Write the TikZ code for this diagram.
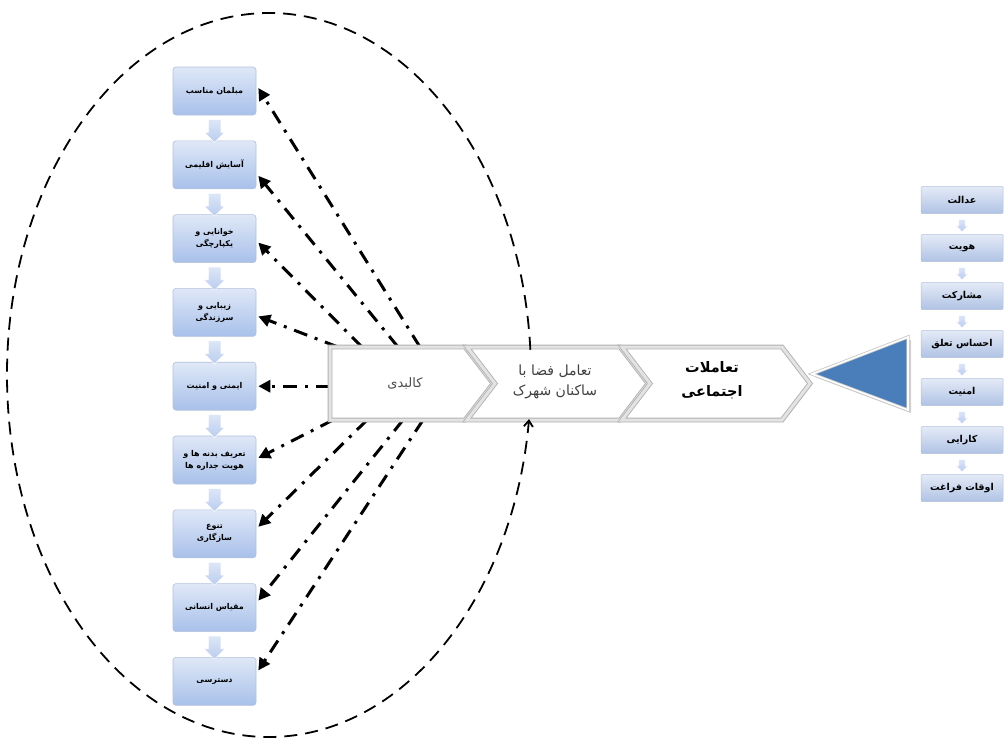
\documentclass[tikz,border=0pt]{standalone}
\usepackage{fontspec}
\usetikzlibrary{arrows.meta,calc,shapes.arrows,shadows}
\newfontfamily\arabicfont[Script=Arabic]{DejaVu Sans}
\TeXXeTstate=1
\newcommand{\myrl}[1]{\beginR #1\endR}
\definecolor{boxtop}{HTML}{DFE8F7}
\definecolor{boxbot}{HTML}{A8C0EA}
\definecolor{boxedge}{HTML}{B2C2DB}
\definecolor{rtop}{HTML}{E4EAF6}
\definecolor{rbot}{HTML}{B0C3E5}
\definecolor{tri}{HTML}{4A7EBB}
\definecolor{atop}{HTML}{DCE6F7}
\definecolor{abot}{HTML}{BACCEE}
\begin{document}
\begin{tikzpicture}[x=1pt,y=1pt,
  lbox/.style={rectangle, rounded corners=3pt, minimum width=83pt, minimum height=48pt, top color=boxtop, bottom color=boxbot, draw=boxedge, line width=0.6pt, align=center, inner sep=1pt, font=\arabicfont\bfseries\fontsize{8}{12}\selectfont},
  rbox/.style={rectangle, rounded corners=1pt, minimum width=82pt, minimum height=27pt, top color=rtop, bottom color=rbot, draw=boxedge, line width=0.5pt, inner sep=1pt, font=\arabicfont\bfseries\fontsize{9.5}{11}\selectfont},
  darr/.style={single arrow, shape border rotate=270, inner sep=6pt, minimum height=23pt, single arrow head extend=4pt, top color=atop, bottom color=abot, draw=white, line width=0.5pt},
  rarr/.style={single arrow, shape border rotate=270, inner sep=3pt, minimum height=12pt, single arrow head extend=2.5pt, top color=atop, bottom color=abot, draw=white, line width=0.4pt},
  chev/.style={fill=white, draw=gray!60, double=gray!22, double distance=3pt, line width=0.9pt, line join=miter, drop shadow={shadow xshift=1.5pt, shadow yshift=-2pt, opacity=0.3}},
  dda/.style={line width=3pt, dash pattern=on 14pt off 8pt on 3pt off 8pt, -{Triangle[length=12pt,width=12pt]}},
  ell/.style={line width=1.8pt, dash pattern=on 13pt off 8pt, -{Straight Barb[length=6pt,width=9pt]}},
]
\useasboundingbox[fill=white] (0,0) rectangle (1004,-740);

% left boxes
\node[lbox] (b1) at (214.5,-91.0) {\myrl{مبلمان مناسب}};
\node[lbox] (b2) at (214.5,-164.8) {\myrl{آسایش اقلیمی}};
\node[lbox] (b3) at (214.5,-238.6) {\myrl{خوانایی و}\\\myrl{یکپارچگی}};
\node[lbox] (b4) at (214.5,-312.4) {\myrl{زیبایی و}\\\myrl{سرزندگی}};
\node[lbox] (b5) at (214.5,-386.2) {\myrl{ایمنی و امنیت}};
\node[lbox] (b6) at (214.5,-460.0) {\myrl{تعریف بدنه ها و}\\\myrl{هویت جداره ها}};
\node[lbox] (b7) at (214.5,-533.8) {\myrl{تنوع}\\\myrl{سازگاری}};
\node[lbox] (b8) at (214.5,-607.6) {\myrl{مقیاس انسانی}};
\node[lbox] (b9) at (214.5,-681.4) {\myrl{دسترسی}};

% small down arrows between left boxes
\foreach \i/\j in {1/2,2/3,3/4,4/5,5/6,6/7,7/8,8/9}
  \node[darr] (a\i) at ($(b\i.south)!0.5!(b\j.north)$) {};

% right boxes
\node[rbox] (r1) at (962,-200) {\myrl{عدالت}};
\node[rbox] (r2) at (962,-248) {\myrl{هویت}};
\node[rbox] (r3) at (962,-296) {\myrl{مشارکت}};
\node[rbox] (r4) at (962,-344) {\myrl{احساس تعلق}};
\node[rbox] (r5) at (962,-392) {\myrl{امنیت}};
\node[rbox] (r6) at (962,-440) {\myrl{کارایی}};
\node[rbox] (r7) at (962,-488) {\myrl{اوقات فراغت}};
\foreach \i/\j in {1/2,2/3,3/4,4/5,5/6,6/7}
  \node[rarr] (q\i) at ($(r\i.south)!0.5!(r\j.north)$) {};

% blue triangle
\fill[gray!35] (815,-377) -- (911,-340) -- (911,-413) -- cycle;
\filldraw[fill=tri, draw=gray!45, line width=3.2pt, line join=miter] (812,-374) -- (908,-337) -- (908,-410) -- cycle;
\draw[white, line width=1.6pt, line join=miter] (812,-374) -- (908,-337) -- (908,-410) -- cycle;

% start points of the dash-dot connectors
\coordinate (s1) at (420,-347);
\coordinate (s2) at (398,-347);
\coordinate (s3) at (362,-347);
\coordinate (s4) at (338,-347);
\coordinate (s5) at (330,-386.2);
\coordinate (s6) at (333,-420);
\coordinate (s7) at (367,-420);
\coordinate (s8) at (403,-420);
\coordinate (s9) at (423,-420);

\draw[dda] (s1) -- ($(b1.east)+(2,3)$);
\draw[dda] (s2) -- ($(b2.east)+(2,-11)$);
\draw[dda] (s3) -- ($(b3.east)+(2,-4)$);
\draw[dda] (s4) -- ($(b4.east)+(2,-4)$);
\draw[dda] (s5) -- ($(b5.east)+(2,0)$);
\draw[dda] (s6) -- ($(b6.east)+(2,2)$);
\draw[dda] (s7) -- ($(b7.east)+(2,7)$);
\draw[dda] (s8) -- ($(b8.east)+(2,7)$);
\draw[dda] (s9) -- ($(b9.east)+(2,11)$);

% chevrons
\path[chev] (330,-347) -- (465,-347) -- (493,-383.5) -- (465,-420) -- (330,-420) -- cycle;
\path[chev] (467,-347) -- (620,-347) -- (648,-383.5) -- (620,-420) -- (467,-420) -- (495,-383.5) -- cycle;
\path[chev] (622,-347) -- (782,-347) -- (810,-383.5) -- (782,-420) -- (622,-420) -- (650,-383.5) -- cycle;

\node[font=\arabicfont\fontsize{13}{14}\selectfont, text=gray!60!black] (c1) at (405,-383.5) {\myrl{کالبدی}};
\node[font=\arabicfont\fontsize{14}{20}\selectfont, text=black!75, align=center] (c2) at (555,-382) {\myrl{تعامل فضا با}\\\myrl{ساکنان شهرک}};
\node[font=\arabicfont\bfseries\fontsize{14.5}{24}\selectfont, align=center] (c3) at (712,-380) {\myrl{تعاملات}\\\myrl{اجتماعی}};

% dashed loop round the left part
\draw[ell] ($(269,-375)+(4:262 and 362)$) arc[start angle=4, end angle=353, x radius=262, y radius=362];
\end{tikzpicture}
\end{document}
